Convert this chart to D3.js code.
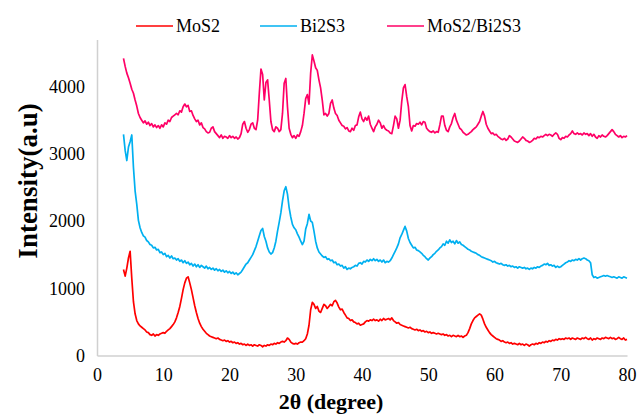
<!DOCTYPE html>
<html>
<head>
<meta charset="utf-8">
<script src="https://cdn.jsdelivr.net/npm/d3@7/dist/d3.min.js"></script>
<style>
  html, body { margin: 0; padding: 0; background: #fff; }
  svg, svg text { font-family: 'Liberation Serif', 'Times New Roman', serif; }
</style>
</head>
<body>
<svg id="chart" width="638" height="414"></svg>
<script>
// XRD patterns, sampled every 0.25 degree of 2θ from 4 to 80
const angleStart = 4;
const angleStep = 0.25;

const seriesNames = ["MoS2", "Bi2S3", "MoS2/Bi2S3"];
const seriesColors = ["#ff0000", "#00b0f0", "#ff0066"];

const mos2 = [
  1280,1180,1300,1450, 1550,1150,800,620, 520,470,440,420, 400,380,350,340,
  310,300,320,290, 310,300,320,330, 340,330,360,380, 400,430,460,500,
  560,640,730,850, 980,1080,1150,1170, 1080,980,860,740, 640,550,480,430,
  390,360,330,310, 290,280,270,260, 250,260,240,230, 220,230,210,220,
  200,210,190,200, 180,190,170,180, 160,170,150,170, 150,160,140,160,
  150,140,160,150, 130,150,140,160, 150,170,160,180, 170,190,180,200,
  210,200,220,260, 240,200,180,170, 180,170,190,200, 200,220,250,320,
  450,680,790,760, 700,730,660,640, 700,760,740,700, 730,760,740,800,
  820,780,720,680, 690,640,600,560, 550,520,530,500, 490,470,480,450,
  460,470,500,520, 510,530,520,540, 520,530,510,540, 520,550,530,540,
  550,530,560,520, 500,480,490,460, 450,440,430,420, 410,420,400,390,
  380,390,370,380, 360,370,350,360, 340,350,330,340, 330,320,330,320,
  310,320,300,310, 290,300,280,300, 290,280,300,280, 290,270,290,300,
  340,400,470,520, 560,580,600,620, 600,540,470,420, 380,340,310,290,
  270,250,240,230, 210,220,200,190, 200,180,190,170, 180,170,160,180,
  160,170,150,170, 160,140,160,170, 160,180,170,190, 180,200,190,210,
  200,220,210,230, 220,240,230,250, 240,250,240,260, 250,260,240,260,
  250,240,260,250, 240,260,250,270, 250,240,260,230, 250,240,260,250,
  240,260,250,270, 260,250,270,250, 260,240,250,270, 250,240,260,230,
  240
];

const bi2s3 = [
  3290,3050,2900,3100, 3180,3280,2800,2450, 2250,2010,1900,1830, 1780,1760,1710,1690,
  1650,1640,1600,1610, 1570,1580,1530,1540, 1500,1520,1470,1490, 1450,1480,1440,1450,
  1420,1440,1400,1420, 1380,1410,1370,1390, 1350,1370,1330,1360, 1320,1350,1310,1340,
  1320,1300,1330,1290, 1310,1280,1300,1270, 1290,1260,1280,1250, 1270,1240,1260,1230,
  1250,1220,1240,1210, 1230,1200,1220,1240, 1280,1320,1360,1380, 1420,1460,1500,1560,
  1620,1700,1780,1860, 1890,1770,1700,1600, 1540,1510,1530,1600, 1700,1850,1980,2120,
  2300,2450,2510,2400, 2200,2060,1950,1900, 1870,1810,1760,1700, 1650,1700,1880,1960,
  2100,2000,1980,1850, 1700,1600,1540,1510, 1480,1460,1470,1430, 1440,1410,1420,1380,
  1390,1350,1360,1330, 1340,1300,1320,1280, 1300,1290,1310,1320, 1340,1330,1370,1380,
  1360,1400,1390,1420, 1400,1430,1410,1440, 1410,1430,1400,1420, 1390,1420,1380,1400,
  1390,1410,1450,1500, 1550,1600,1660,1750, 1800,1860,1920,1850, 1740,1680,1640,1600,
  1610,1570,1560,1540, 1520,1490,1470,1440, 1420,1450,1470,1500, 1520,1550,1570,1600,
  1620,1660,1640,1700, 1670,1720,1680,1700, 1660,1710,1670,1690, 1650,1640,1620,1600,
  1580,1570,1550,1540, 1530,1520,1500,1490, 1470,1460,1450,1440, 1430,1420,1410,1390,
  1400,1380,1370,1360, 1370,1350,1340,1350, 1330,1340,1320,1330, 1310,1320,1300,1320,
  1310,1300,1310,1290, 1300,1280,1300,1290, 1310,1300,1320,1310, 1330,1340,1360,1350,
  1370,1340,1350,1330, 1340,1310,1330,1310, 1320,1340,1360,1380, 1390,1410,1400,1420,
  1410,1430,1420,1440, 1420,1440,1450,1440, 1420,1410,1380,1200, 1160,1170,1150,1160,
  1170,1180,1190,1180, 1190,1180,1170,1160, 1170,1160,1150,1170, 1160,1150,1170,1160,
  1150
];

const composite = [
  4420,4300,4200,4130, 4050,3960,3900,3800, 3710,3600,3540,3500, 3460,3490,3440,3470,
  3420,3450,3400,3430, 3390,3420,3380,3430, 3400,3460,3440,3500, 3480,3540,3560,3580,
  3600,3580,3640,3620, 3700,3740,3700,3720, 3630,3640,3570,3520, 3480,3500,3430,3460,
  3390,3370,3330,3310, 3320,3380,3400,3330, 3300,3270,3240,3280, 3230,3260,3250,3230,
  3270,3240,3260,3230, 3250,3220,3240,3300, 3440,3480,3380,3320, 3360,3440,3460,3380,
  3360,3500,3900,4260, 4180,3800,4060,4100, 3800,3480,3360,3330, 3400,3380,3330,3360,
  3600,4050,4120,3700, 3380,3290,3240,3270, 3230,3280,3260,3330, 3420,3600,3820,3880,
  3740,4200,4470,4380, 4280,4240,4100,3980, 3800,3580,3600,3560, 3600,3750,3800,3680,
  3600,3570,3500,3460, 3420,3410,3370,3390, 3340,3330,3380,3350, 3420,3430,3550,3620,
  3520,3480,3540,3500, 3560,3440,3380,3330, 3400,3440,3500,3460, 3380,3420,3370,3350,
  3340,3310,3300,3420, 3560,3520,3380,3500, 3780,3980,4030,3850, 3700,3420,3340,3420,
  3410,3450,3440,3470, 3430,3480,3470,3380, 3350,3330,3320,3340, 3310,3330,3320,3430,
  3560,3560,3420,3350, 3330,3400,3450,3540, 3600,3500,3440,3380, 3360,3320,3300,3280,
  3290,3310,3330,3360, 3380,3400,3440,3480, 3560,3630,3560,3440, 3380,3340,3300,3310,
  3280,3290,3260,3240, 3220,3210,3230,3200, 3220,3270,3250,3220, 3190,3180,3170,3190,
  3220,3250,3230,3200, 3190,3170,3180,3200, 3230,3220,3250,3240, 3260,3250,3270,3290,
  3270,3290,3280,3260, 3290,3310,3290,3230, 3210,3240,3230,3260, 3250,3280,3300,3340,
  3300,3290,3310,3290, 3300,3280,3310,3290, 3300,3270,3300,3260, 3290,3250,3230,3270,
  3250,3280,3260,3250, 3270,3300,3330,3360, 3330,3290,3270,3250, 3270,3240,3260,3250,
  3270
];

const xTicks = [0, 10, 20, 30, 40, 50, 60, 70, 80];
const yTicks = [0, 1000, 2000, 3000, 4000];
const xTitle = "2θ (degree)";
const yTitle = "Intensity(a.u)";

const series = [mos2, bi2s3, composite];
const serif = "'Liberation Serif', 'Times New Roman', serif";

const svg = d3.select("#chart").attr("font-family", serif);
const plot = { left: 97, right: 627, top: 39.5, bottom: 355.5 };

const x = d3.scaleLinear().domain([0, 80]).range([plot.left, plot.right]);
const y = d3.scaleLinear().domain([0, 4700]).range([plot.bottom, plot.top]);

// axes: light grey spines, no tick marks
const axisColor = "#d0d0d0";

const gx = svg.append("g")
  .attr("transform", `translate(0,${plot.bottom})`)
  .call(d3.axisBottom(x).tickValues(xTicks).tickSize(0).tickPadding(13).tickFormat(d3.format("d")));
const gy = svg.append("g")
  .attr("transform", `translate(${plot.left},0)`)
  .call(d3.axisLeft(y).tickValues(yTicks).tickSize(0).tickPadding(12).tickFormat(d3.format("d")));

[gx, gy].forEach(g => {
  g.attr("font-family", serif).attr("font-size", 18);
  g.select(".domain").attr("stroke", axisColor).attr("stroke-width", 1.5);
  g.selectAll("text")
    .attr("font-family", serif)
    .attr("font-size", 18)
    .attr("fill", "#000");
});

// traces
const line = d3.line()
  .x((d, i) => x(angleStart + i * angleStep))
  .y(d => y(d));

svg.append("g")
  .selectAll("path")
  .data(series)
  .join("path")
  .attr("d", d => line(d))
  .attr("fill", "none")
  .attr("stroke", (d, i) => seriesColors[i])
  .attr("stroke-width", 1.7)
  .attr("stroke-linejoin", "round");

// axis titles
svg.append("text")
  .attr("x", 331)
  .attr("y", 409)
  .attr("text-anchor", "middle")
  .attr("font-family", serif)
  .attr("font-size", 22)
  .attr("font-weight", "bold")
  .text(xTitle);

svg.append("text")
  .attr("transform", "translate(37,181) rotate(-90)")
  .attr("text-anchor", "middle")
  .attr("font-family", serif)
  .attr("font-size", 27)
  .attr("font-weight", "bold")
  .text(yTitle);

// legend
const legendX = [136, 260, 387];
const legend = svg.append("g")
  .selectAll("g")
  .data(seriesNames)
  .join("g")
  .attr("transform", (d, i) => `translate(${legendX[i]},26)`);

legend.append("line")
  .attr("x1", 0).attr("x2", 37)
  .attr("y1", 0).attr("y2", 0)
  .attr("stroke", (d, i) => seriesColors[i])
  .attr("stroke-width", 1.6);

legend.append("text")
  .attr("x", 40)
  .attr("y", 0)
  .attr("dy", "0.35em")
  .attr("font-family", serif)
  .attr("font-size", 18)
  .text(d => d);
</script>
</body>
</html>
